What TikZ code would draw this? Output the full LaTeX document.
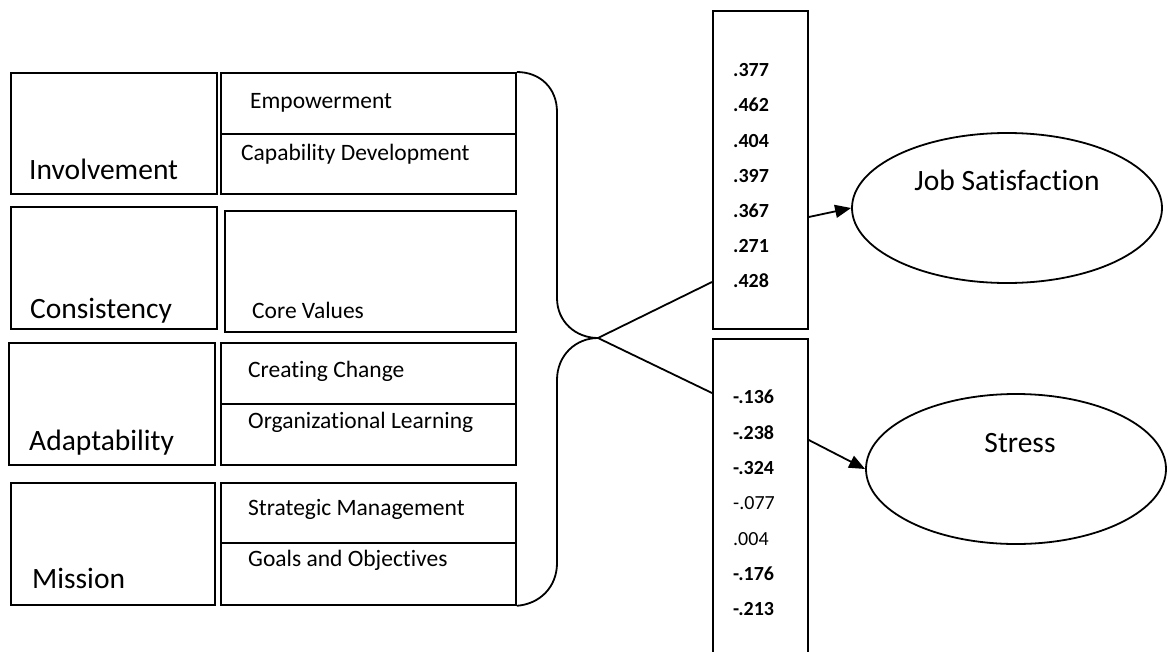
\documentclass[tikz,border=0pt]{standalone}
\usepackage{fontspec}
\setmainfont{Carlito}[Ligatures=NoCommon]
\usetikzlibrary{arrows.meta,shapes.geometric}

\tikzset{
	box/.style={draw,line width=1.8pt,inner sep=0pt,anchor=north west},
	oval/.style={draw,ellipse,line width=1.8pt,inner sep=0pt},
	biglab/.style={font=\fontsize{29.5}{34}\selectfont,anchor=base west,inner sep=0pt},
	sublab/.style={font=\fontsize{23.5}{28}\selectfont,anchor=base west,inner sep=0pt},
	coef/.style={font=\fontsize{20}{24}\selectfont\bfseries,anchor=base west,inner sep=0pt},
	coefns/.style={font=\fontsize{20}{24}\selectfont,anchor=base west,inner sep=0pt},
	ovlab/.style={font=\fontsize{29.5}{34}\selectfont,anchor=base,inner sep=0pt},
	link/.style={line width=1.8pt},
	path/.style={line width=1.8pt,-{Triangle[length=16pt,width=13pt]}}
}

\begin{document}
\begin{tikzpicture}[x=1pt,y=-1pt]

			\useasboundingbox (0,0) rectangle (1168,651);
			\clip (0,0) rectangle (1168,651);

			\node[box,minimum width=206,minimum height=121] (inv) at (10,72) {};
			\node[box,minimum width=295,minimum height=61] (empw) at (220,72) {};
			\node[box,minimum width=295,minimum height=60] (capd) at (220,133) {};

			\node[box,minimum width=206,minimum height=122] (cons) at (10,206) {};
			\node[box,minimum width=291,minimum height=121] (core) at (224,210) {};

			\node[box,minimum width=206,minimum height=122] (adap) at (8,342) {};
			\node[box,minimum width=295,minimum height=61] (crch) at (220,342) {};
			\node[box,minimum width=295,minimum height=61] (orgl) at (220,403) {};

			\node[box,minimum width=204,minimum height=122] (miss) at (10,482) {};
			\node[box,minimum width=295,minimum height=60] (strm) at (220,482) {};
			\node[box,minimum width=295,minimum height=62] (goal) at (220,542) {};

			\node[biglab] (invt) at (29,179) {Involvement};
			\node[biglab] (const) at (30,318) {Consistency};
			\node[biglab] (adapt) at (29,450) {Adaptability};
			\node[biglab] (misst) at (32,588) {Mission};

			\node[sublab] (empwt) at (250,108) {Empowerment};
			\node[sublab] (capdt) at (241,160) {Capability Development};
			\node[sublab] (coret) at (252,318) {Core Values};
			\node[sublab] (crcht) at (248,377) {Creating Change};
			\node[sublab] (orglt) at (248,428) {Organizational Learning};
			\node[sublab] (strmt) at (248,515) {Strategic Management};
			\node[sublab] (goalt) at (248,566) {Goals and Objectives};

			\coordinate (M) at (598,338);

			\draw[link] (empw.north east) .. controls (540,72) and (557,88) .. (557,112)
				-- (557,298) .. controls (557,322) and (576,338) .. (M)
				.. controls (576,338) and (557,355) .. (557,380)
				-- (557,563) .. controls (557,587) and (540,604) .. (goal.south east);

			\node[box,minimum width=95,minimum height=318] (jsbox) at (712,10) {};
			\node[box,minimum width=95,minimum height=330] (stbox) at (712,338) {};

			\node[coef] (c1) at (733,76) {.377};
			\node[coef] (c2) at (733,111) {.462};
			\node[coef] (c3) at (733,147) {.404};
			\node[coef] (c4) at (733,182) {.397};
			\node[coef] (c5) at (733,217) {.367};
			\node[coef] (c6) at (733,252) {.271};
			\node[coef] (c7) at (733,287) {.428};

			\node[coef] (s1) at (733,403) {-.136};
			\node[coef] (s2) at (733,439) {-.238};
			\node[coef] (s3) at (733,474) {-.324};
			\node[coefns] (s4) at (733,509) {-.077};
			\node[coefns] (s5) at (733,545) {.004};
			\node[coef] (s6) at (733,580) {-.176};
			\node[coef] (s7) at (733,615) {-.213};

			\node[oval,minimum width=310,minimum height=150] (js) at (1007,208) {};
			\node[oval,minimum width=300,minimum height=150] (st) at (1016,469) {};

			\path (js.center) ++(0,-18) node[ovlab] (jst) {Job Satisfaction};
			\path (st.center) ++(4,-17) node[ovlab] (stt) {Stress};

			\coordinate (jsin) at (jsbox.west |- 0,282);
			\coordinate (stin) at (stbox.west |- 0,393);
			\coordinate (jsout) at (jsbox.east |- 0,217);
			\coordinate (stout) at (stbox.east |- 0,440);

			\draw[link] (M) -- (jsin);
			\draw[link] (M) -- (stin);
			\draw[path] (jsout) -- (js.west);
			\draw[path] (stout) -- (st.west);
		\end{tikzpicture}
\end{document}
